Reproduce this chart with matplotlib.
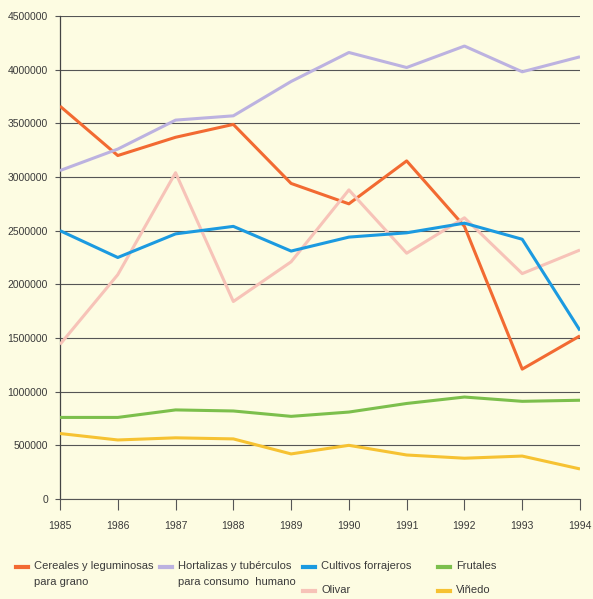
import matplotlib.pyplot as plt
from matplotlib.lines import Line2D

# Datos (hectáreas)
anios = [1985, 1986, 1987, 1988, 1989, 1990, 1991, 1992, 1993, 1994]
cereales = [3660000, 3200000, 3370000, 3490000, 2940000, 2750000, 3150000, 2540000, 1210000, 1520000]
hortalizas = [3060000, 3260000, 3530000, 3570000, 3890000, 4160000, 4020000, 4220000, 3980000, 4120000]
forrajeros = [2500000, 2250000, 2470000, 2540000, 2310000, 2440000, 2480000, 2570000, 2420000, 1570000]
olivar = [1440000, 2090000, 3040000, 1840000, 2210000, 2880000, 2290000, 2620000, 2100000, 2320000]
frutales = [760000, 760000, 830000, 820000, 770000, 810000, 890000, 950000, 910000, 920000]
vinedo = [610000, 550000, 570000, 560000, 420000, 500000, 410000, 380000, 400000, 280000]
y_ticks = [0, 500000, 1000000, 1500000, 2000000, 2500000, 3000000, 3500000, 4000000, 4500000]

fondo = '#fdfce2'
texto = '#3a3a3a'
fuente = 'Liberation Sans'

series = [
    (cereales, '#f26a32', 'Cereales y leguminosas\npara grano'),
    (hortalizas, '#bcb2e0', 'Hortalizas y tubérculos\npara consumo  humano'),
    (olivar, '#f7c3b8', 'Olivar'),
    (forrajeros, '#1b9ae0', 'Cultivos forrajeros'),
    (frutales, '#7cbf4c', 'Frutales'),
    (vinedo, '#f6c232', 'Viñedo'),
]

fig = plt.figure(figsize=(5.93, 5.99), dpi=100, facecolor=fondo)
ax = fig.add_axes([60 / 593, 1 - 499 / 599, 520 / 593, 483 / 599])
ax.set_facecolor(fondo)

for vals, color, nombre in series:
    ax.plot(anios, vals, color=color, lw=2.2, solid_capstyle='butt', zorder=3)

ax.set_xlim(1985, 1994)
ax.set_ylim(0, 4500000)
ax.set_yticks(y_ticks)
ax.set_yticklabels([str(v) for v in y_ticks], family=fuente, fontsize=7.5, color=texto)
ax.set_xticks(anios)
ax.set_xticklabels([str(a) for a in anios], family=fuente, fontsize=7.5, color=texto)
ax.grid(axis='y', color='#555555', lw=0.8, zorder=1)
ax.tick_params(axis='y', length=3.6, width=0.8, color='#555555', pad=5)
ax.tick_params(axis='x', length=8, width=0.8, color='#555555', pad=8)
for lado in ['top', 'right']:
    ax.spines[lado].set_visible(False)
ax.spines['left'].set_color('#444444')
ax.spines['left'].set_linewidth(0.9)
ax.spines['bottom'].set_color('#555555')
ax.spines['bottom'].set_linewidth(0.8)

# Leyenda manual en la parte inferior
W, H = 593, 599
leyenda = [
    (16, 567, '#f26a32', 'Cereales y leguminosas\npara grano'),
    (160, 567, '#bcb2e0', 'Hortalizas y tubérculos\npara consumo  humano'),
    (303, 567, '#1b9ae0', 'Cultivos forrajeros'),
    (303, 591, '#f7c3b8', 'Olivar'),
    (438, 567, '#7cbf4c', 'Frutales'),
    (438, 591, '#f6c232', 'Viñedo'),
]
for x, y, color, nombre in leyenda:
    fig.add_artist(Line2D([x / W, (x + 12) / W], [1 - y / H, 1 - y / H], color=color, lw=3))
    fig.text((x + 18) / W, 1 - (y - 6) / H, nombre, family=fuente, fontsize=8,
             color=texto, va='top', ha='left', linespacing=1.8)

fig.savefig('out.png', dpi=100, facecolor=fondo)
